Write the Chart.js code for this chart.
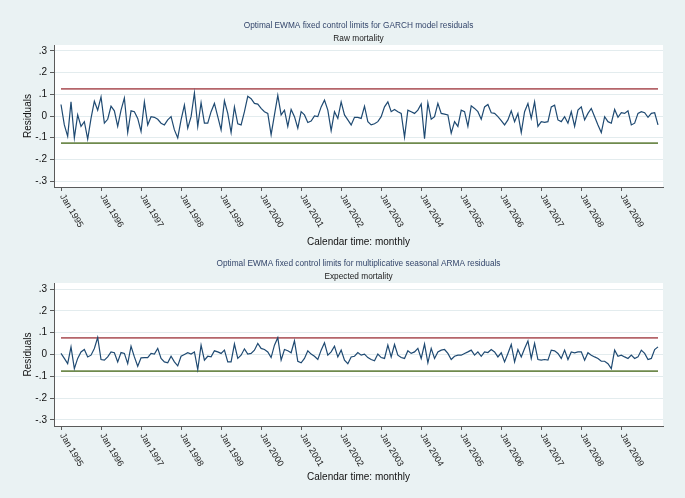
<!DOCTYPE html>
<html>
<head>
<meta charset="utf-8">
<script src="https://cdn.jsdelivr.net/npm/chart.js@4.4.1/dist/chart.umd.min.js"></script>
<style>
  html, body { margin: 0; padding: 0; background: #eaf2f3; }
  canvas { display: block; }
</style>
</head>
<body>
<canvas id="garch" width="685" height="250"></canvas>
<canvas id="arma" width="685" height="248"></canvas>
<script>
// month index 0 = Jan 1995
const tickMonths = [0, 12, 24, 36, 48, 60, 72, 84, 96, 108, 120, 132, 144, 156, 168];
const tickLabels = ['Jan 1995', 'Jan 1996', 'Jan 1997', 'Jan 1998', 'Jan 1999', 'Jan 2000', 'Jan 2001',
  'Jan 2002', 'Jan 2003', 'Jan 2004', 'Jan 2005', 'Jan 2006', 'Jan 2007', 'Jan 2008', 'Jan 2009'];
const yTicks = [-0.3, -0.2, -0.1, 0, 0.1, 0.2, 0.3];

// raw mortality, GARCH residuals (one row per year)
const garchResid = [
  0.053, -0.041, -0.094, 0.065, -0.101, 0.005, -0.048, -0.026, -0.106, -0.011, 0.068, 0.027,
  0.088, -0.033, -0.015, 0.045, 0.024, -0.048, 0.027, 0.083, -0.076, 0.024, 0.020, -0.011,
  -0.071, 0.065, -0.041, -0.003, -0.006, -0.015, -0.033, -0.041, -0.018, -0.003, -0.064, -0.101,
  -0.018, 0.050, -0.056, -0.003, 0.106, -0.048, 0.061, -0.033, -0.033, 0.020, 0.058, -0.003,
  -0.064, 0.070, 0.012, -0.076, 0.042, -0.036, -0.041, 0.020, 0.091, 0.080, 0.058, 0.055,
  0.035, 0.020, 0.012, -0.086, 0.005, 0.095, 0.005, 0.027, -0.048, 0.030, -0.003, -0.056,
  0.020, 0.005, -0.030, -0.023, 0.000, -0.003, 0.042, 0.073, 0.027, -0.067, 0.020, -0.011,
  0.065, 0.005, -0.018, -0.041, -0.006, -0.006, -0.011, 0.045, -0.026, -0.041, -0.036, -0.026,
  -0.003, 0.042, 0.065, 0.020, 0.030, 0.020, 0.012, -0.097, 0.027, 0.020, 0.012, 0.027,
  0.055, -0.105, 0.061, -0.015, -0.003, 0.058, 0.012, 0.009, 0.005, -0.079, -0.026, -0.048,
  0.027, 0.020, -0.048, 0.047, 0.035, 0.020, -0.015, 0.042, 0.053, 0.015, 0.012, -0.003,
  -0.021, -0.041, -0.018, 0.024, -0.026, 0.012, -0.076, 0.020, 0.058, -0.011, 0.065, -0.048,
  -0.026, -0.029, -0.026, 0.042, 0.050, -0.018, -0.026, -0.003, -0.033, 0.020, -0.048, 0.027,
  0.042, -0.018, 0.012, 0.035, -0.003, -0.041, -0.076, -0.003, -0.026, -0.033, 0.030, -0.006,
  0.015, 0.012, 0.024, -0.041, -0.033, 0.012, 0.020, 0.015, -0.006, 0.012, 0.015, -0.041
];
const garchLimits = [0.125, -0.125];

// expected mortality, seasonal ARMA residuals
const armaResid = [
  0.005, -0.018, -0.042, 0.035, -0.065, -0.018, 0.012, 0.023, -0.011, -0.003, 0.028, 0.078,
  -0.023, -0.026, -0.011, 0.012, 0.008, -0.034, 0.009, 0.005, -0.042, 0.038, -0.011, -0.054,
  -0.015, -0.014, -0.014, 0.005, 0.002, 0.028, -0.018, -0.034, -0.038, -0.008, -0.034, -0.052,
  -0.008, 0.000, 0.008, 0.002, 0.012, -0.069, 0.043, -0.026, -0.008, -0.011, 0.017, 0.012,
  0.005, 0.020, -0.034, -0.034, 0.048, -0.018, -0.003, 0.026, 0.002, 0.005, 0.020, 0.051,
  0.028, 0.023, 0.012, -0.014, 0.043, 0.077, -0.026, 0.023, 0.017, 0.008, 0.063, -0.031,
  -0.038, -0.018, 0.017, 0.002, -0.008, -0.023, 0.020, 0.054, -0.003, 0.012, 0.038, -0.011,
  0.020, -0.026, -0.042, -0.011, -0.008, 0.009, -0.003, 0.002, -0.014, -0.023, -0.029, 0.002,
  -0.014, -0.018, 0.043, -0.011, 0.046, -0.003, -0.014, -0.018, 0.017, 0.005, 0.012, 0.028,
  -0.018, 0.048, -0.038, 0.028, -0.018, 0.012, 0.020, 0.023, 0.005, -0.023, -0.008, -0.003,
  -0.003, 0.005, 0.012, 0.020, -0.003, 0.012, -0.008, 0.012, 0.009, 0.023, 0.012, -0.011,
  0.008, -0.034, 0.005, 0.046, -0.034, 0.023, -0.011, 0.028, 0.062, -0.018, 0.051, -0.023,
  -0.026, -0.023, -0.026, 0.020, 0.017, 0.005, -0.018, 0.020, -0.023, 0.012, 0.008, 0.012,
  0.012, -0.026, 0.008, -0.003, -0.011, -0.018, -0.031, -0.031, -0.042, -0.065, 0.020, -0.008,
  -0.003, -0.011, -0.018, -0.003, -0.018, -0.011, 0.020, 0.005, -0.023, -0.018, 0.023, 0.035
];
const armaLimits = [0.076, -0.076];

const FONT = '"Liberation Sans", Arial, Helvetica, sans-serif';

// stata style numbers: .3, -.1, 0
function stataNum(v) {
  const r = Math.round(v * 10) / 10;
  if (r === 0) return '0';
  return (r < 0 ? '-' : '') + String(Math.abs(r)).replace(/^0/, '');
}

const stataLook = {
  id: 'stataLook',
  beforeDraw(chart) {
    const { ctx, chartArea: a } = chart;
    ctx.save();
    ctx.fillStyle = '#eaf2f3';
    ctx.fillRect(0, 0, chart.width, chart.height);
    ctx.fillStyle = '#ffffff';
    ctx.fillRect(a.left, a.top, a.right - a.left, a.bottom - a.top);
    ctx.restore();
  },
  afterDraw(chart) {
    // rotated month labels, reading down to the right
    const { ctx, chartArea: a, scales: { x } } = chart;
    ctx.save();
    ctx.font = '9px ' + FONT;
    ctx.fillStyle = '#222';
    ctx.textAlign = 'left';
    ctx.textBaseline = 'middle';
    tickMonths.forEach((m, i) => {
      ctx.save();
      ctx.translate(x.getPixelForValue(m) + 1, a.bottom + 8);
      ctx.rotate(59 * Math.PI / 180);
      ctx.fillText(tickLabels[i], 0, 0);
      ctx.restore();
    });
    ctx.restore();
  }
};

function makeChart(id, series, limits, title, subtitle, o) {
  const last = series.length - 1;
  return new Chart(document.getElementById(id), {
    type: 'line',
    data: {
      datasets: [
        {
          data: series.map((v, i) => ({ x: i, y: v })),
          borderColor: '#1f4a72', borderWidth: 1.2, pointRadius: 0, tension: 0
        },
        {
          data: [{ x: 0, y: limits[0] }, { x: last, y: limits[0] }],
          borderColor: '#b5656a', borderWidth: 1.7, pointRadius: 0
        },
        {
          data: [{ x: 0, y: limits[1] }, { x: last, y: limits[1] }],
          borderColor: '#6f8a4d', borderWidth: 1.7, pointRadius: 0
        }
      ]
    },
    options: {
      responsive: false,
      animation: false,
      events: [],
      layout: { padding: { left: 0, right: 22, top: 0, bottom: 0 } },
      plugins: {
        legend: { display: false },
        tooltip: { enabled: false },
        title: {
          display: true, fullSize: false, text: title, color: '#34466b',
          font: { family: FONT, size: 8.3, weight: 'normal' },
          padding: { top: o.titleTop, bottom: 2.3 }
        },
        subtitle: {
          display: true, fullSize: false, text: subtitle, color: '#1a1a1a',
          font: { family: FONT, size: 8.3, weight: 'normal' },
          padding: { top: 0, bottom: 1.8 }
        }
      },
      scales: {
        x: {
          type: 'linear', min: -2.1, max: 180.5,
          afterBuildTicks: s => { s.ticks = tickMonths.map(v => ({ value: v })); },
          ticks: { display: false },
          grid: { drawOnChartArea: false, drawTicks: true, tickLength: 4, tickColor: '#5a5a5a', tickWidth: 1 },
          border: { display: true, color: '#5a5a5a', width: 1 },
          title: {
            display: true, text: 'Calendar time: monthly', color: '#111',
            font: { family: FONT, size: 10 }, padding: { top: 0, bottom: o.xTitlePad }
          },
          afterFit: s => { s.height = o.xHeight; }
        },
        y: {
          min: -o.yMax, max: o.yMax,
          afterBuildTicks: s => { s.ticks = yTicks.map(v => ({ value: v })); },
          ticks: { callback: v => stataNum(v), color: '#111', font: { family: FONT, size: 10 }, padding: 3 },
          grid: { color: '#e3ecee', lineWidth: 1, tickColor: '#5a5a5a', tickLength: 4 },
          border: { display: true, color: '#5a5a5a', width: 1 },
          title: {
            display: true, text: 'Residuals', color: '#111',
            font: { family: FONT, size: 10 }, padding: { top: 22, bottom: 0 }
          },
          afterFit: s => { s.width = 54; }
        }
      }
    },
    plugins: [stataLook]
  });
}

makeChart('garch', garchResid, garchLimits,
  'Optimal EWMA fixed control limits for GARCH model residuals', 'Raw mortality',
  { titleTop: 21, xHeight: 63, xTitlePad: 2, yMax: 0.327 });

makeChart('arma', armaResid, armaLimits,
  'Optimal EWMA fixed control limits for multiplicative seasonal ARMA residuals', 'Expected mortality',
  { titleTop: 9, xHeight: 72, xTitlePad: 15, yMax: 0.328 });
</script>
</body>
</html>
